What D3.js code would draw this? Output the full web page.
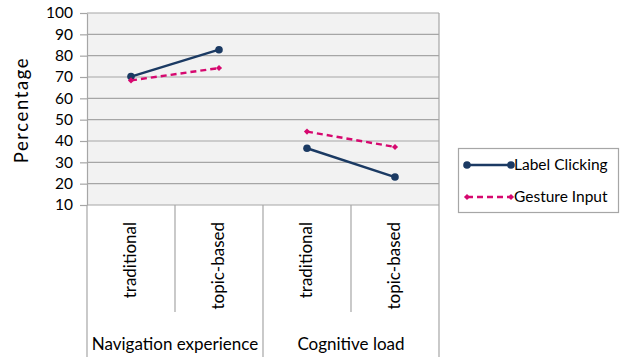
<!DOCTYPE html>
<html>
<head>
<meta charset="utf-8">
<script src="https://cdn.jsdelivr.net/npm/d3@7"></script>
<style>
    body { margin: 0; background: #fff; }
    .chart text { font-family: Lato, "Open Sans", sans-serif; fill: #000; }
</style>
</head>
<body>
<svg class="chart"></svg>
<script>
    var groups = ["Navigation experience", "Cognitive load"];
    var categories = ["traditional", "topic-based"];
    var labelClicking = [70.2, 82.8, 36.6, 23.1];
    var gestureInput = [68.4, 74.2, 44.4, 37.2];
    var yTicks = [10, 20, 30, 40, 50, 60, 70, 80, 90, 100];

    var width = 621, height = 357;
    var plotLeft = 87, plotRight = 439, plotTop = 13, plotBottom = 205;

    var keys = [];
    groups.forEach(function (g, gi) {
        categories.forEach(function (c) { keys.push(gi + "|" + c); });
    });

    var x = d3.scaleBand().domain(keys).range([plotLeft, plotRight]);
    var y = d3.scaleLinear().domain([10, 100]).range([plotBottom, plotTop]);

    var chart = d3.select(".chart").attr("width", width).attr("height", height);

    // plot background
    chart.append("rect")
        .attr("x", plotLeft).attr("y", plotTop)
        .attr("width", plotRight - plotLeft).attr("height", plotBottom - plotTop)
        .attr("fill", "#f2f2f2");

    // gridlines
    chart.append("g").selectAll("line").data(yTicks).enter().append("line")
        .attr("x1", plotLeft).attr("x2", plotRight)
        .attr("y1", function (d) { return y(d); }).attr("y2", function (d) { return y(d); })
        .attr("stroke", "#a6a6a6").attr("stroke-width", 1.2);
    chart.append("line")
        .attr("x1", plotRight).attr("x2", plotRight).attr("y1", plotTop).attr("y2", plotBottom)
        .attr("stroke", "#a6a6a6").attr("stroke-width", 1.2);

    // Y-Axis
    var axisY = d3.axisLeft(y).tickValues(yTicks).tickSize(7).tickPadding(7).tickSizeOuter(0);
    var gy = chart.append("g")
        .attr("transform", "translate(" + plotLeft + ",0)")
        .call(axisY);
    gy.select(".domain").attr("stroke", "#a6a6a6").attr("stroke-width", 1.2);
    gy.selectAll(".tick line").attr("stroke", "#a6a6a6").attr("stroke-width", 1.2);
    gy.selectAll(".tick text").style("font-size", "15.5px").attr("font-family", "Lato, sans-serif");

    chart.append("text")
        .attr("transform", "translate(28,110) rotate(-90)")
        .attr("text-anchor", "middle")
        .style("font-size", "18.5px")
        .style("letter-spacing", "1.6px")
        .text("Percentage");

    // category separators
    var sep = chart.append("g").attr("stroke", "#a6a6a6").attr("stroke-width", 1.2);
    keys.forEach(function (k, i) {
        var xx = x(k);
        var long = (i % categories.length === 0);
        sep.append("line").attr("x1", xx).attr("x2", xx)
            .attr("y1", plotBottom).attr("y2", long ? height : 312);
    });
    sep.append("line").attr("x1", plotRight).attr("x2", plotRight)
        .attr("y1", plotBottom).attr("y2", height);

    // category labels
    chart.append("g").selectAll("text").data(keys).enter().append("text")
        .attr("transform", function (d) {
            return "translate(" + (x(d) + x.bandwidth() / 2 + 5) + ",222) rotate(-90)";
        })
        .attr("text-anchor", "end")
        .style("font-size", "17px")
        .text(function (d) { return d.split("|")[1]; });

    // group labels
    var gx = d3.scaleBand().domain(groups).range([plotLeft, plotRight]);
    chart.append("g").selectAll("text").data(groups).enter().append("text")
        .attr("x", function (d) { return gx(d) + gx.bandwidth() / 2; })
        .attr("y", 350)
        .attr("text-anchor", "middle")
        .style("font-size", "17px")
        .text(function (d) { return d; });

    var series = [
        { name: "Label Clicking", values: labelClicking, color: "#1b3a63", dash: null, marker: "circle" },
        { name: "Gesture Input", values: gestureInput, color: "#d6086f", dash: "6,4", marker: "diamond" }
    ];

    var line = d3.line()
        .x(function (d) { return x(d.k) + x.bandwidth() / 2; })
        .y(function (d) { return y(d.v); });

    function marker(g, type, color, cx, cy) {
        if (type === "circle") {
            g.append("circle").attr("cx", cx).attr("cy", cy).attr("r", 3.8).attr("fill", color);
        } else {
            g.append("path").attr("d", d3.symbol().type(d3.symbolDiamond2).size(24)())
                .attr("transform", "translate(" + cx + "," + cy + ")").attr("fill", color);
        }
    }

    series.forEach(function (s) {
        var g = chart.append("g");
        groups.forEach(function (grp, gi) {
            var pts = [];
            categories.forEach(function (c, ci) {
                var idx = gi * categories.length + ci;
                pts.push({ k: keys[idx], v: s.values[idx] });
            });
            g.append("path").datum(pts)
                .attr("d", line)
                .attr("fill", "none")
                .attr("stroke", s.color)
                .attr("stroke-width", 2.4)
                .attr("stroke-dasharray", s.dash);
            pts.forEach(function (p) {
                marker(g, s.marker, s.color, x(p.k) + x.bandwidth() / 2, y(p.v));
            });
        });
    });

    // legend
    var lg = chart.append("g");
    lg.append("rect").attr("x", 458.5).attr("y", 148.5).attr("width", 160).attr("height", 64)
        .attr("fill", "#fff").attr("stroke", "#a6a6a6").attr("stroke-width", 1.2);
    series.forEach(function (s, i) {
        var ly = 165 + i * 32;
        lg.append("line").attr("x1", 467).attr("x2", 511).attr("y1", ly).attr("y2", ly)
            .attr("stroke", s.color).attr("stroke-width", 2.4).attr("stroke-dasharray", s.dash);
        marker(lg, s.marker, s.color, 467, ly);
        marker(lg, s.marker, s.color, 511, ly);
        lg.append("text").attr("x", 514).attr("y", ly + 5)
            .style("font-size", "15.5px").text(s.name);
    });
</script>
</body>
</html>
